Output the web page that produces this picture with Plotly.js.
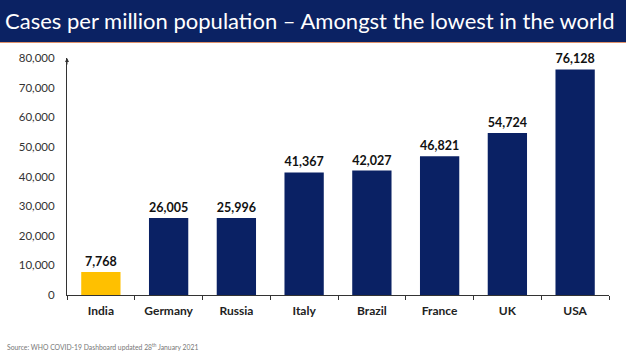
<!DOCTYPE html>
<html><head><meta charset="utf-8">
<script src="https://cdn.plot.ly/plotly-3.0.1.min.js"></script>
<style>html,body{margin:0;padding:0;background:#fff}#chart{width:626px;height:352px}</style>
</head><body><div id="chart"></div>
<script>
const countries = ["India","Germany","Russia","Italy","Brazil","France","UK","USA"];
const casesPerMillion = [7768,26005,25996,41367,42027,46821,54724,76128];
const barColors = ["#FFC000","#0A2164","#0A2164","#0A2164","#0A2164","#0A2164","#0A2164","#0A2164"];
const yTickVals = [0,10000,20000,30000,40000,50000,60000,70000,80000];
const yTickText = ["0","10,000","20,000","30,000","40,000","50,000","60,000","70,000","80,000"];

const W=626,H=352,L=67,R=17,T=58,B=57;
const ph=H-T-B, pw=W-L-R;
const py = p => 1 + (T - p)/ph; // pixel y -> paper y
const px = p => (p - L)/pw;

const trace = {
  type:'bar', x:countries, y:casesPerMillion,
  marker:{color:barColors, line:{width:0}},
  text:casesPerMillion.map(v=>v.toLocaleString('en-US')),
  textposition:'outside', cliponaxis:false,
  textfont:{family:'Lato, sans-serif', size:12.5, color:'#111', weight:700},
  hoverinfo:'none'
};
const layout = {
  width:W, height:H,
  margin:{l:L,r:R,t:T,b:B,pad:0},
  paper_bgcolor:'#fff', plot_bgcolor:'#fff',
  showlegend:false, bargap:0.42,
  title:{text:'Cases per million population – Amongst the lowest in the world',
    x:0.008, xanchor:'left', xref:'container', y:1-21/H, yanchor:'middle', yref:'container',
    font:{family:'Lato, sans-serif', size:22, color:'#fff'}},
  xaxis:{type:'category', showline:true, linecolor:'#333', linewidth:1,
    ticks:'outside', tickson:'boundaries', ticklen:4, tickcolor:'#333', ticklabelstandoff:5,
    tickfont:{family:'Lato, sans-serif', size:12, color:'#222', weight:700},
    showgrid:false, zeroline:false, fixedrange:true},
  yaxis:{range:[0,80000], tickvals:yTickVals, ticktext:yTickText, showgrid:false,
    showline:true, linecolor:'#333', linewidth:1, ticks:'', zeroline:false,
    tickfont:{family:'Lato, sans-serif', size:11.5, color:'#333'}, ticklabelstandoff:9},
  shapes:[
    {type:'rect', xref:'paper', yref:'paper', x0:px(0), x1:px(W), y0:py(42), y1:py(0),
      fillcolor:'#0B2263', line:{width:0}, layer:'below'},
    {type:'line', xref:'paper', yref:'paper', x0:px(0), x1:px(W), y0:py(42.5), y1:py(42.5),
      line:{color:'#E0926A', width:1.2}}
  ],
  annotations:[
    {xref:'paper', yref:'paper', x:0, y:1, ax:0, ay:8, axref:'pixel', ayref:'pixel',
      showarrow:true, arrowhead:2, arrowsize:0.8, arrowwidth:1, arrowcolor:'#333', text:''},
    {xref:'paper', yref:'paper', x:px(5), y:py(346), xanchor:'left', yanchor:'middle', showarrow:false,
      text:'Source: WHO COVID-19 Dashboard updated 28<sup>th</sup> January 2021',
      font:{family:'Lato, sans-serif', size:6.8, color:'#777'}}
  ]
};
Plotly.newPlot('chart',[trace],layout,{staticPlot:true});
</script></body></html>
